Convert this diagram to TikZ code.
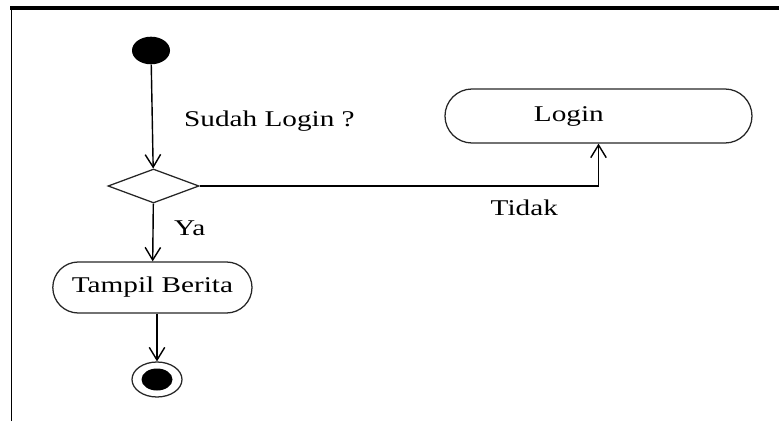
\documentclass[tikz,border=0pt]{standalone}
\usepackage{fontspec}
\setmainfont{Liberation Serif}
\usepackage{graphicx}
\usetikzlibrary{arrows.meta,shapes.geometric,shapes.misc,positioning}
\newcommand{\wtext}[1]{\scalebox{1.3}[1]{#1}}

\begin{document}
\begin{tikzpicture}[font=\fontsize{16}{19}\selectfont,
	activity/.style={rounded rectangle, draw=black!85, line width=0.9pt, inner sep=0pt},
	flow/.style={draw=black, line width=1pt, -{Straight Barb[length=9pt,width=11pt]}},
	lbl/.style={inner sep=0pt}]
	\useasboundingbox (0,0) rectangle (19.475,10.525);
	\draw[line width=1.1pt] (0.2875,0) -- (0.2875,10.325);
	\draw[line width=2.2pt] (0.26,10.325) -- (19.475,10.325);
	\node (start)	at ( 3.775, 9.2625)	[ellipse, fill=black, minimum width=0.95cm, minimum height=0.69cm, inner sep=0pt]	{};
	\node (cek)	at ( 3.8375, 5.875)	[diamond, draw=black!85, line width=0.9pt, minimum width=2.275cm, minimum height=0.85cm, inner sep=0pt]	{};
	\node (login)	at (14.9625, 7.625)	[activity, minimum width=7.675cm, minimum height=1.35cm, label={[lbl, xshift=-0.74cm]center:\wtext{Login}}]	{};
	\node (berita)	at ( 3.81, 3.3375)	[activity, minimum width=4.98cm, minimum height=1.275cm]	{\wtext{Tampil Berita}};
	\node (stop)	at ( 3.925, 1.0375)	[ellipse, draw=black!85, line width=0.9pt, minimum width=1.25cm, minimum height=0.875cm, path picture={\fill (path picture bounding box.center) ellipse (0.3875cm and 0.275cm);}]	{};
	\draw[flow] (start) -- node[lbl, right=0.78cm, yshift=-0.12cm] {\wtext{Sudah Login ?}} (cek);
	\draw[flow] (cek) -- node[lbl, right=0.51cm, yshift=0.1cm] {\wtext{Ya}} (berita);
	\draw[flow] (cek) -| node[lbl, pos=0.407, below=0.34cm] {\wtext{Tidak}} (login);
	\draw[flow] (berita.south -| stop.north) -- (stop);
\end{tikzpicture}
\end{document}
